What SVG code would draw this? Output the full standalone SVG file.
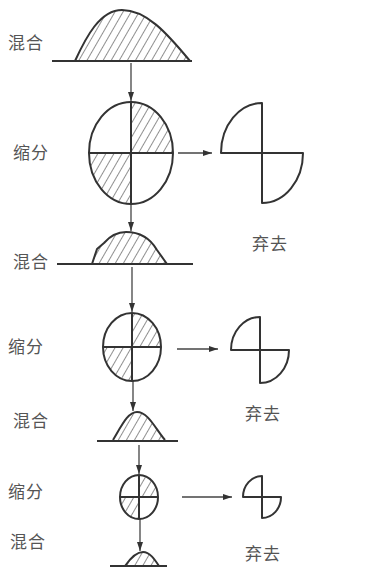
<svg xmlns="http://www.w3.org/2000/svg" width="382" height="572" viewBox="0 0 382 572">
<style>
.ln{fill:none;stroke:#333;stroke-width:2;stroke-linejoin:round}
.ht{fill:url(#hatch);stroke:none}
.ar{fill:none;stroke:#444;stroke-width:1.3}
.lb{font-family:"Liberation Serif","Noto Sans CJK SC",serif;font-size:17px;fill:#555;letter-spacing:1px}
</style>
<defs>
<pattern id="hatch" width="7" height="7" patternUnits="userSpaceOnUse" patternTransform="rotate(30)"><line x1="0" y1="-1" x2="0" y2="8" stroke="#444" stroke-width="1.2"/></pattern>
<marker id="ah" markerWidth="9" markerHeight="6" refX="9" refY="3" orient="auto" markerUnits="userSpaceOnUse"><path d="M0,0 L9,3 L0,6 Z" fill="#333"/></marker>
</defs>
<g id="connectors">
<line class="ar" x1="131" y1="63" x2="131" y2="101" marker-end="url(#ah)"/>
<line class="ar" x1="131" y1="204" x2="131" y2="231" marker-end="url(#ah)"/>
<line class="ar" x1="132" y1="267" x2="132" y2="312" marker-end="url(#ah)"/>
<line class="ar" x1="133" y1="381" x2="133" y2="411" marker-end="url(#ah)"/>
<line class="ar" x1="139" y1="445" x2="139" y2="474" marker-end="url(#ah)"/>
<line class="ar" x1="140" y1="519" x2="140" y2="551" marker-end="url(#ah)"/>
<line class="ar" x1="178" y1="153" x2="212" y2="153" marker-end="url(#ah)"/>
<line class="ar" x1="177" y1="349" x2="218" y2="349" marker-end="url(#ah)"/>
<line class="ar" x1="182" y1="497" x2="232" y2="497" marker-end="url(#ah)"/>
</g>
<g id="mix1">
<path class="ht" d="M75,61 C86,37 100,10 122,10 C146,10 166,32 190,61 Z"/>
<path class="ln" d="M75,61 C86,37 100,10 122,10 C146,10 166,32 190,61"/>
<line class="ln" x1="52" y1="61" x2="192" y2="61"/>
<text class="lb" x="8" y="49">混合</text>
</g>
<g id="split1">
<path class="ht" d="M131,153 L131,102 A42,51 0 0 1 173,153 Z"/>
<path class="ht" d="M131,153 L89,153 A42,51 0 0 0 131,204 Z"/>
<ellipse class="ln" cx="131" cy="153" rx="42" ry="51"/>
<line class="ln" x1="89" y1="153" x2="173" y2="153"/>
<line class="ln" x1="131" y1="102" x2="131" y2="204"/>
<text class="lb" x="13" y="159">缩分</text>
</g>
<g id="discard1">
<path class="ln" d="M262,153 L221,153 A41,50 0 0 1 262,103 Z"/>
<path class="ln" d="M262,153 L303,153 A41,50 0 0 1 262,203 Z"/>
<text class="lb" x="252" y="250">弃去</text>
</g>
<g id="mix2">
<path class="ht" d="M92,264 L97,249 L104,243 C110,236 116,232 126,232 C140,232 150,238 157,250 L167,264 Z"/>
<path class="ln" d="M92,264 L97,249 L104,243 C110,236 116,232 126,232 C140,232 150,238 157,250 L167,264"/>
<line class="ln" x1="57" y1="264" x2="193" y2="264"/>
<text class="lb" x="13" y="268">混合</text>
</g>
<g id="split2">
<path class="ht" d="M132,347 L132,313 A29,34 0 0 1 161,347 Z"/>
<path class="ht" d="M132,347 L103,347 A29,34 0 0 0 132,381 Z"/>
<ellipse class="ln" cx="132" cy="347" rx="29" ry="34"/>
<line class="ln" x1="103" y1="347" x2="161" y2="347"/>
<line class="ln" x1="132" y1="313" x2="132" y2="381"/>
<text class="lb" x="8" y="353">缩分</text>
</g>
<g id="discard2">
<path class="ln" d="M260,350 L231,350 A29,33 0 0 1 260,317 Z"/>
<path class="ln" d="M260,350 L289,350 A29,33 0 0 1 260,383 Z"/>
<text class="lb" x="245" y="420">弃去</text>
</g>
<g id="mix3">
<path class="ht" d="M113,440 C122,425 128,412 137,412 C148,412 155,428 165,440 Z"/>
<path class="ln" d="M113,440 C122,425 128,412 137,412 C148,412 155,428 165,440"/>
<line class="ln" x1="97" y1="441" x2="178" y2="441"/>
<text class="lb" x="13" y="427">混合</text>
</g>
<g id="split3">
<path class="ht" d="M139,497 L139,475 A19,22 0 0 1 158,497 Z"/>
<path class="ht" d="M139,497 L120,497 A19,22 0 0 0 139,519 Z"/>
<ellipse class="ln" cx="139" cy="497" rx="19" ry="22"/>
<line class="ln" x1="120" y1="497" x2="158" y2="497"/>
<line class="ln" x1="139" y1="475" x2="139" y2="519"/>
<text class="lb" x="8" y="498">缩分</text>
</g>
<g id="discard3">
<path class="ln" d="M262,497 L243,497 A19,21 0 0 1 262,476 Z"/>
<path class="ln" d="M262,497 L281,497 A19,21 0 0 1 262,518 Z"/>
<text class="lb" x="245" y="560">弃去</text>
</g>
<g id="mix4">
<path class="ht" d="M125,566 C132,556 137,552 143,552 C150,552 155,560 159,566 Z"/>
<path class="ln" d="M125,566 C132,556 137,552 143,552 C150,552 155,560 159,566"/>
<line class="ln" x1="110" y1="566" x2="167" y2="566"/>
<text class="lb" x="10" y="548">混合</text>
</g>
</svg>
